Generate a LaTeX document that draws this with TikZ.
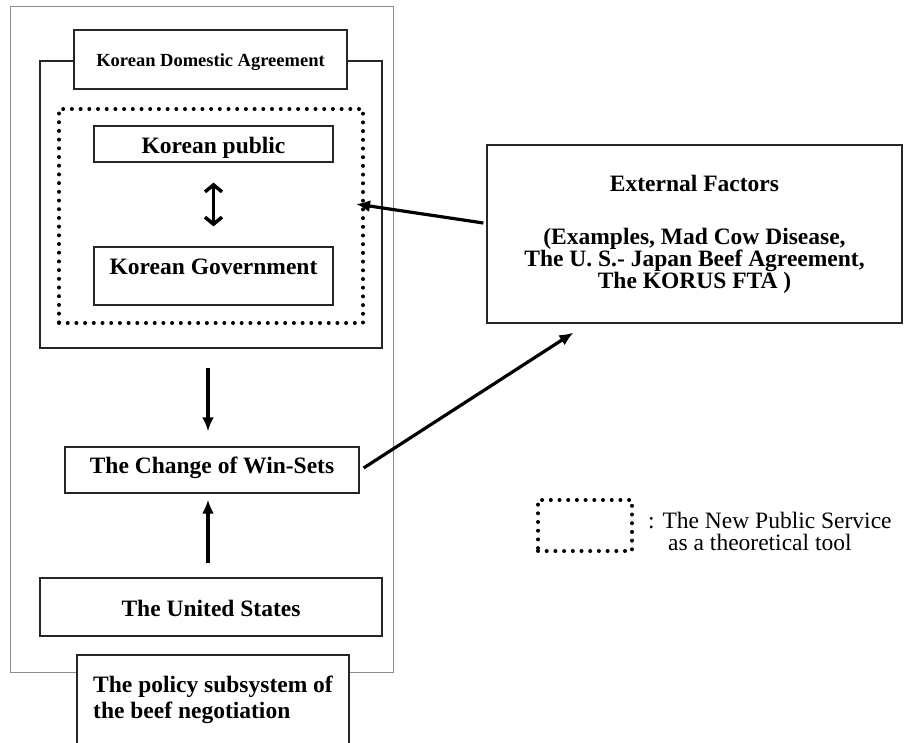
\documentclass[tikz,border=0pt]{standalone}
\usepackage{fontspec}
\setmainfont{Liberation Serif}
\usetikzlibrary{arrows.meta}

\begin{document}
\begin{tikzpicture}[x=1pt,y=-1pt]
        \tikzstyle{frame}=[draw=black!45,line width=1pt,inner sep=0pt]
        \tikzstyle{box}=[draw=black!85,line width=1.2pt,fill=white,inner sep=0pt,font=\bfseries\fontsize{23.5}{22}\selectfont]
        \tikzstyle{nps}=[draw=black,line width=4pt,line cap=round,dash pattern=on 0pt off 8.7pt,inner sep=0pt]
        \tikzstyle{arrow}=[draw,line width=3.2pt,-{Latex[length=14pt,width=12pt]}]
        \tikzstyle{twoway}=[draw,line width=3.5pt,{Straight Barb[length=7pt,width=17pt]}-{Straight Barb[length=7pt,width=17pt]}]
        \tikzstyle{legend}=[inner sep=0pt,font=\fontsize{23.5}{22}\selectfont]
        \useasboundingbox (0,0) rectangle (904,742);
        \clip (0,0) rectangle (904,742);
        % the policy subsystem
        \node [frame,minimum width=383pt,minimum height=666pt] (sys) at (201.5,339) {};
        \node [box,font=\bfseries\fontsize{23.5}{26}\selectfont,align=left,minimum width=272pt,minimum height=90pt] (pol) at (213,700) {The policy subsystem of\\the beef negotiation};
        % domestic level
        \node [box,fill=none,minimum width=342pt,minimum height=287pt] (dom) at (211,204.5) {};
        \node [box,font=\bfseries\fontsize{18.5}{20}\selectfont,minimum width=273pt,text height=36.7pt,text depth=22.3pt] (kda) at (210.5,59.5) {Korean Domestic Agreement};
        \node [nps,minimum width=304pt,minimum height=214pt] (nps) at (211,216) {};
        \node [box,minimum width=239pt,text height=27pt,text depth=9pt] (kp) at (213.5,144) {Korean public};
        \node [box,minimum width=239pt,text height=27pt,text depth=31pt] (kgov) at (213.5,276) {Korean Government};
        % win-sets and the other side
        \node [box,minimum width=294pt,text height=26pt,text depth=20pt] (ws) at (212,470) {The Change of Win-Sets};
        \node [box,minimum width=342pt,text height=38pt,text depth=20pt] (us) at (211,607) {The United States};
        \node [box,align=center,minimum width=415pt,minimum height=178pt] (ext) at (694.5,234) {External Factors\\[31pt](Examples, Mad Cow Disease,\\The U.~S.- Japan Beef Agreement,\\The KORUS FTA )};
        % legend
        \node [nps,minimum width=94pt,minimum height=51pt] (leg) at (585,525.5) {};
        \node [legend,anchor=base west] (leg1) at (648,528) {: The New Public Service};
        \node [legend,anchor=base west] (leg2) at (668,550) {as a theoretical tool};
        % connectors
        \path ([yshift=-20pt]kp.south) edge[twoway] ([yshift=20pt]kgov.north);
        \path ([xshift=-3pt,yshift=-19pt]dom.south) edge[arrow] ([xshift=-4pt,yshift=15pt]ws.north);
        \path ([xshift=-3pt,yshift=14pt]us.north) edge[arrow] ([xshift=-4pt,yshift=-6pt]ws.south);
        \path ([xshift=-3pt,yshift=11pt]ext.west) edge[arrow] ([xshift=-9pt,yshift=12pt]nps.east);
        \path ([xshift=4pt,yshift=2pt]ws.east) edge[arrow] ([xshift=87pt,yshift=-9pt]ext.south west);
\end{tikzpicture}
\end{document}
